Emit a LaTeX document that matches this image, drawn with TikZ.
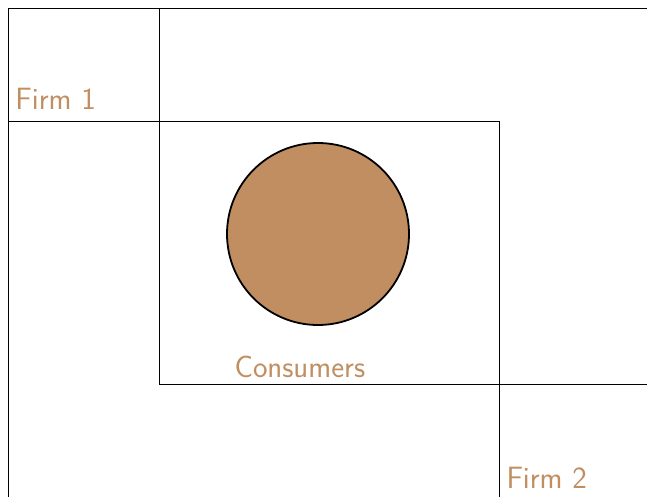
\documentclass[tikz,border=0pt]{standalone}
\usepackage{fontspec}
\definecolor{tan}{RGB}{192,142,96}
\begin{document}
\begin{tikzpicture}[x=1pt,y=-1pt,
  region/.style={line width=0.9pt,black},
  lbl/.style={text=tan,inner sep=0pt,anchor=base west,font=\sffamily\fontsize{30.8}{36}\selectfont},
  market/.style={draw=black,line width=1.8pt,fill=tan}]
\useasboundingbox (0,0) rectangle (647,497);
\draw[region] (8,497) -- (8,8) -- (647,8);
\draw[region] (159,8) -- (159,384) -- (647,384);
\draw[region] (8,121) -- (499,121) -- (499,497);
\node[market,circle,minimum size=182pt,inner sep=0pt] (cons) at (318,234) {};
\node[lbl] (f1) at (15.3,110) {Firm 1};
\node[lbl] (c) at (234.3,377) {Consumers};
\node[lbl] (f2) at (506.3,488) {Firm 2};
\end{tikzpicture}
\end{document}
